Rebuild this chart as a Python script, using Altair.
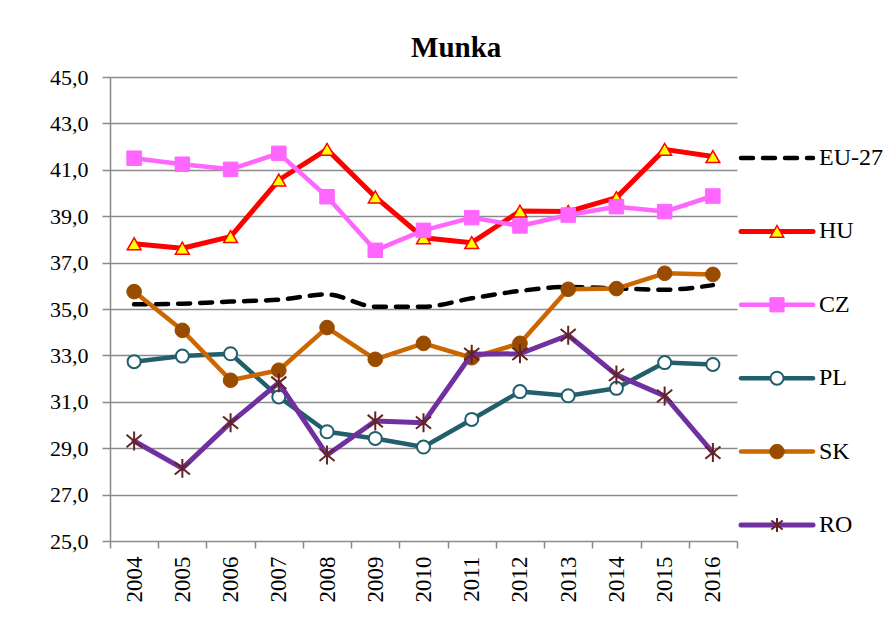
import altair as alt
import pandas as pd

# ---- data ----
years = [str(y) for y in range(2004, 2017)]
eu27 = [35.20, 35.23, 35.32, 35.40, 35.63, 35.10, 35.10, 35.46, 35.78, 35.95, 35.89, 35.83, 36.03]
hu = [37.81, 37.62, 38.12, 40.56, 41.88, 39.83, 38.07, 37.86, 39.22, 39.20, 39.80, 41.88, 41.57]
cz = [41.50, 41.24, 41.02, 41.71, 39.84, 37.53, 38.39, 38.94, 38.58, 39.05, 39.41, 39.20, 39.87]
pl = [32.73, 32.97, 33.07, 31.21, 29.71, 29.42, 29.05, 30.24, 31.44, 31.26, 31.58, 32.69, 32.61]
sk = [35.75, 34.08, 31.93, 32.36, 34.20, 32.83, 33.52, 32.90, 33.52, 35.85, 35.88, 36.54, 36.49]
ro = [29.31, 28.13, 30.10, 31.82, 28.71, 30.17, 30.10, 33.05, 33.07, 33.87, 32.16, 31.25, 28.81]
series_names = ["EU-27", "HU", "CZ", "PL", "SK", "RO"]
y_ticks = [25, 27, 29, 31, 33, 35, 37, 39, 41, 43, 45]
title_text = "Munka"

values = {"EU-27": eu27, "HU": hu, "CZ": cz, "PL": pl, "SK": sk, "RO": ro}
df = pd.DataFrame(
    [{"series": s, "year": y, "value": v} for s in series_names for y, v in zip(years, values[s])]
)
leg_df = pd.DataFrame({"series": series_names})

# ---- styles ----
FONT = "Liberation Serif"
GRID = "#8c8c8c"
ASTERISK = "M0,-1L0,1M-0.8,-0.65L0.8,0.65M-0.8,0.65L0.8,-0.65"

line_style = {
    "EU-27": dict(color="#000000", strokeWidth=4.5, strokeDash=[12, 10], interpolate="monotone"),
    "HU": dict(color="#ff0000", strokeWidth=5),
    "CZ": dict(color="#ff66ff", strokeWidth=4.5),
    "PL": dict(color="#215f6c", strokeWidth=4.5),
    "SK": dict(color="#cc6600", strokeWidth=4.5),
    "RO": dict(color="#7030a0", strokeWidth=5),
}
marker_style = {
    "HU": dict(shape="triangle-up", size=190, fill="#ffff00", stroke="#ff0000", strokeWidth=1.5),
    "CZ": dict(shape="square", size=210, fill="#ff66ff", stroke="#ff66ff", strokeWidth=1),
    "PL": dict(shape="circle", size=170, fill="#ffffff", stroke="#215f6c", strokeWidth=2),
    "SK": dict(shape="circle", size=215, fill="#994c00", stroke="#994c00", strokeWidth=1),
    "RO": dict(shape=ASTERISK, size=360, fill="transparent", stroke="#632523", strokeWidth=2),
}
legend_marker_size = {"HU": 180, "CZ": 200, "PL": 170, "SK": 210, "RO": 200}

x_enc = alt.X(
    "year:O",
    sort=years,
    bandPosition=0.5,
    scale=alt.Scale(type="band", domain=years, paddingInner=0, paddingOuter=0),
    axis=alt.Axis(
        title=None,
        labelAngle=-90,
        labelFont=FONT,
        labelFontSize=23,
        labelColor="#000000",
        labelPadding=8,
        tickBand="extent",
        tickSize=7,
        tickColor="#898989",
        tickWidth=1.5,
        domain=False,
        grid=False,
    ),
)
y_enc = alt.Y(
    "value:Q",
    scale=alt.Scale(domain=[25, 45], nice=False, zero=False),
    axis=alt.Axis(
        title=None,
        values=y_ticks,
        labelExpr="replace(format(datum.value, '.1f'), '.', ',')",
        labelFont=FONT,
        labelFontSize=22,
        labelColor="#000000",
        labelPadding=14,
        tickSize=8,
        tickColor="#898989",
        tickWidth=1.5,
        domainColor="#898989",
        domainWidth=1.5,
        gridColor=GRID,
        gridWidth=1.6,
    ),
)

layers = []
for s in series_names:
    base = alt.Chart(df).transform_filter(alt.datum.series == s)
    ls = dict(line_style[s])
    layers.append(
        base.mark_line(strokeCap="round", strokeJoin="round", **ls).encode(x=x_enc, y=y_enc)
    )
    if s in marker_style:
        ms = marker_style[s]
        layers.append(
            base.mark_point(opacity=1, filled=True, **ms).encode(x=x_enc, y=y_enc)
        )

main = alt.layer(*layers).properties(width=627, height=464)

# ---- legend panel ----
ly = alt.Y(
    "series:N",
    scale=alt.Scale(type="point", domain=series_names, range=[81, 448], padding=0),
    axis=None,
)
leg_layers = []
for s in series_names:
    b = alt.Chart(leg_df).transform_filter(alt.datum.series == s)
    ls = dict(line_style[s])
    ls.pop("interpolate", None)
    leg_layers.append(
        b.mark_rule(strokeCap="round", **ls).encode(x=alt.value(3), x2=alt.value(75), y=ly)
    )
    if s in marker_style:
        ms = dict(marker_style[s])
        ms["size"] = legend_marker_size[s]
        leg_layers.append(
            b.mark_point(opacity=1, filled=True, **ms).encode(x=alt.value(39), y=ly)
        )
    leg_layers.append(
        b.mark_text(align="left", baseline="middle", font=FONT, fontSize=24, color="#000000").encode(
            x=alt.value(81), y=ly, text="series:N"
        )
    )
legend_panel = alt.layer(*leg_layers).properties(width=140, height=464)

chart = (
    alt.hconcat(main, legend_panel, spacing=0)
    .properties(
        title=alt.Title(
            title_text,
            font=FONT,
            fontSize=29,
            fontWeight="bold",
            color="#000000",
            anchor="middle",
            offset=3,
            dx=-10,
        ),
        padding={"left": 41, "top": 26, "right": 0, "bottom": 4},
        background="#ffffff",
    )
    .configure_view(stroke=None)
)

chart.save("out.html", embed_options={"renderer": "svg", "actions": False})
